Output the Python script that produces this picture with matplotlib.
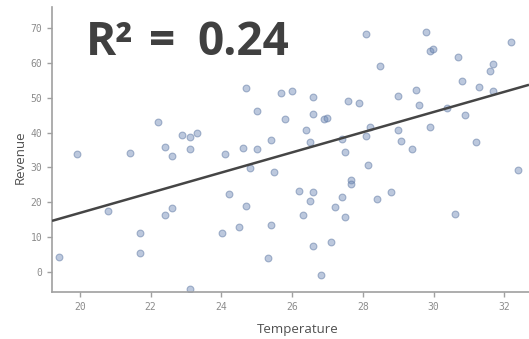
import matplotlib
matplotlib.use("Agg")
import matplotlib.pyplot as plt
import numpy as np

# Data
temperature = [19.41, 19.91, 20.80, 21.41, 21.71, 21.71, 22.21, 22.40, 22.40, 22.61,
               22.60, 22.89, 23.11, 23.30, 23.11, 23.11, 24.11, 24.01, 24.21, 24.51,
               24.60, 24.69, 24.70, 24.81, 25.00, 25.01, 25.31, 25.40, 25.40, 25.49,
               25.70, 25.80, 26.00, 26.20, 26.30, 26.40, 26.50, 26.50, 26.60, 26.60,
               26.60, 26.60, 26.81, 26.90, 26.99, 27.10, 27.20, 27.40, 27.40, 27.50,
               27.50, 27.59, 27.68, 27.68, 27.90, 28.10, 28.09, 28.16, 28.20, 28.41,
               28.50, 28.80, 29.00, 29.00, 29.09, 29.40, 29.50, 29.60, 29.79, 29.90,
               29.99, 29.90, 30.38, 30.60, 30.70, 30.80, 30.90, 31.19, 31.30, 31.60,
               31.69, 31.69, 32.20, 32.40]
revenue = [4.3, 33.8, 17.5, 34.1, 11.0, 5.3, 43.1, 35.8, 16.3, 33.4,
           18.2, 39.3, 38.8, 39.9, 35.4, -5.0, 33.9, 11.2, 22.3, 12.9,
           35.5, 52.9, 18.9, 29.7, 35.3, 46.1, 4.0, 38.0, 13.5, 28.6,
           51.3, 43.9, 51.9, 23.3, 16.2, 40.6, 37.4, 20.4, 50.3, 45.4,
           22.9, 7.5, -1.0, 43.8, 44.2, 8.5, 18.5, 38.2, 21.6, 34.4,
           15.8, 49.1, 26.4, 25.2, 48.4, 68.4, 39.1, 30.6, 41.7, 21.0,
           59.2, 22.8, 50.5, 40.6, 37.6, 35.4, 52.2, 47.9, 68.9, 63.5,
           64.0, 41.6, 47.1, 16.6, 61.7, 54.9, 45.0, 37.4, 53.2, 57.7,
           59.8, 51.9, 66.1, 29.3]
fit_intercept = -41.1
fit_slope = 2.90
r_squared = 0.24
x_ticks = [20, 22, 24, 26, 28, 30, 32]
y_ticks = [0, 10, 20, 30, 40, 50, 60, 70]

fig = plt.figure(figsize=(5.29, 3.39), dpi=100)
ax = fig.add_axes([52/529, 1-292/339, 1-52/529, (292-7)/339])
ax.set_xlim(19.21, 32.70)
ax.set_ylim(-5.84, 76.1)

ax.scatter(temperature, revenue, s=24, facecolor=(0.42, 0.53, 0.71, 0.45),
           edgecolor=(0.36, 0.46, 0.63, 0.5), linewidth=0.8, zorder=2)

xl = np.array(ax.get_xlim())
ax.plot(xl, fit_intercept + fit_slope * xl, color='#454545', lw=1.8, zorder=3,
        solid_capstyle='butt')

for s in ['top', 'right']:
    ax.spines[s].set_visible(False)
for s in ['left', 'bottom']:
    ax.spines[s].set_color('#a0a0a0')
    ax.spines[s].set_linewidth(1.2)

ax.set_xticks(x_ticks)
ax.set_yticks(y_ticks)
ax.tick_params(axis='both', colors='#a0a0a0', length=3.5, width=1.0,
               labelsize=7, labelcolor='#8c8c8c')
for lab in ax.get_xticklabels() + ax.get_yticklabels():
    lab.set_family('DejaVu Sans Mono')

fig.text(298/529, 1-330/339, 'Temperature', ha='center', va='center',
         fontsize=9.5, color='#505050', family='Open Sans')
fig.text(20/529, 1-157/339, 'Revenue', ha='center', va='center', rotation=90,
         fontsize=9.5, color='#505050', family='Open Sans')

title_kw = dict(ha='left', va='baseline', fontsize=33, fontweight='bold',
                color='#404040', family='Open Sans')
ybase = 1 - 55/339
fig.text(86/529, ybase, 'R²', **title_kw)
fig.text(149/529, ybase, '=', **title_kw)
fig.text(197/529, ybase, f'{r_squared:.2f}', **title_kw)

fig.savefig('out.png', dpi=100)
